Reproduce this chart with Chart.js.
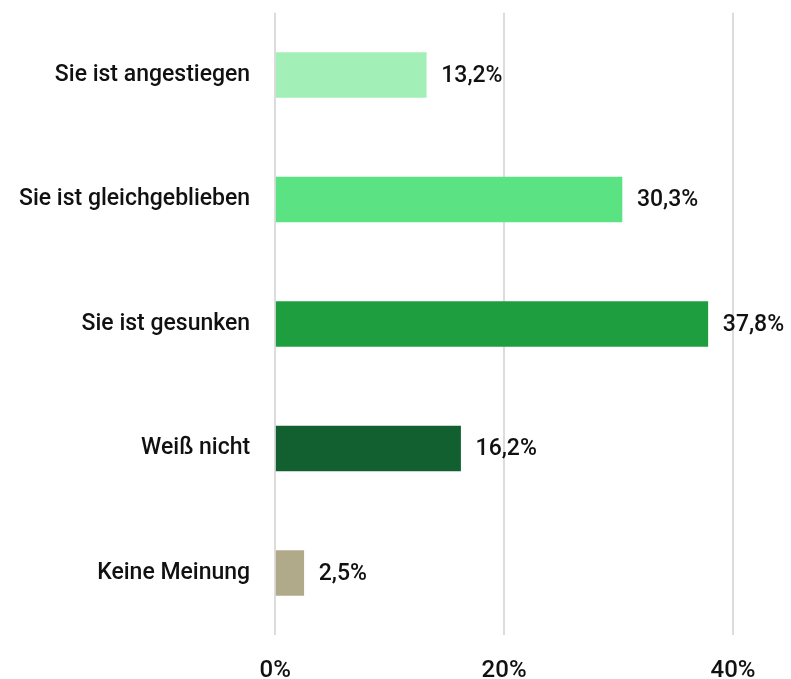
<!DOCTYPE html>
<html>
<head>
<meta charset="utf-8">
<script src="https://cdn.jsdelivr.net/npm/chart.js@4/dist/chart.umd.min.js"></script>
<style>
  html, body { margin: 0; padding: 0; background: #fff; overflow: hidden; }
  #wrap { width: 791px; height: 697px; position: relative; top: -18px; }
</style>
</head>
<body>
<div id="wrap"><canvas id="chart"></canvas></div>
<script>
  // ── Data ──────────────────────────────────────────────
  const categories = ["Sie ist angestiegen", "Sie ist gleichgeblieben", "Sie ist gesunken", "Weiß nicht", "Keine Meinung"];
  const values = [13.2, 30.3, 37.8, 16.2, 2.5];
  const barColors = ["#a2f0b7", "#5ae283", "#1e9e3e", "#126030", "#b0a98a"];
  const xTicks = [0, 20, 40];

  const FONT = "'Roboto', sans-serif";

  // value labels at the end of each bar
  const valueLabels = {
    id: "valueLabels",
    afterDatasetsDraw(chart) {
      const { ctx } = chart;
      const meta = chart.getDatasetMeta(0);
      ctx.save();
      ctx.font = "500 23px " + FONT;
      ctx.fillStyle = "#111";
      ctx.textAlign = "left";
      ctx.textBaseline = "middle";
      meta.data.forEach((bar, i) => {
        ctx.fillText(values[i].toFixed(1).replace(".", ",") + "%", bar.x + 15, bar.y + 1);
      });
      ctx.restore();
    }
  };

  new Chart(document.getElementById("chart"), {
    type: "bar",
    data: {
      labels: categories,
      datasets: [{
        data: values,
        backgroundColor: barColors,
        barThickness: 45,
        borderWidth: 0
      }]
    },
    options: {
      indexAxis: "y",
      responsive: true,
      maintainAspectRatio: false,
      animation: false,
      layout: { padding: { top: 0, right: 58, left: 2, bottom: -27 } },
      plugins: { legend: { display: false }, tooltip: { enabled: false } },
      scales: {
        x: {
          min: 0,
          max: 40,
          afterBuildTicks: (axis) => { axis.ticks = xTicks.map((v) => ({ value: v })); },
          grid: { color: "#dcdcdc", lineWidth: 2, drawTicks: false },
          border: { display: false },
          ticks: {
            color: "#111",
            padding: 21,
            font: { size: 24, weight: "500", family: FONT },
            callback: (v) => v + "%"
          }
        },
        y: {
          grid: { display: false },
          border: { display: false },
          ticks: {
            color: "#111",
            padding: 17,
            font: { size: 23, weight: "500", family: FONT }
          }
        }
      }
    },
    plugins: [valueLabels]
  });
</script>
</body>
</html>
